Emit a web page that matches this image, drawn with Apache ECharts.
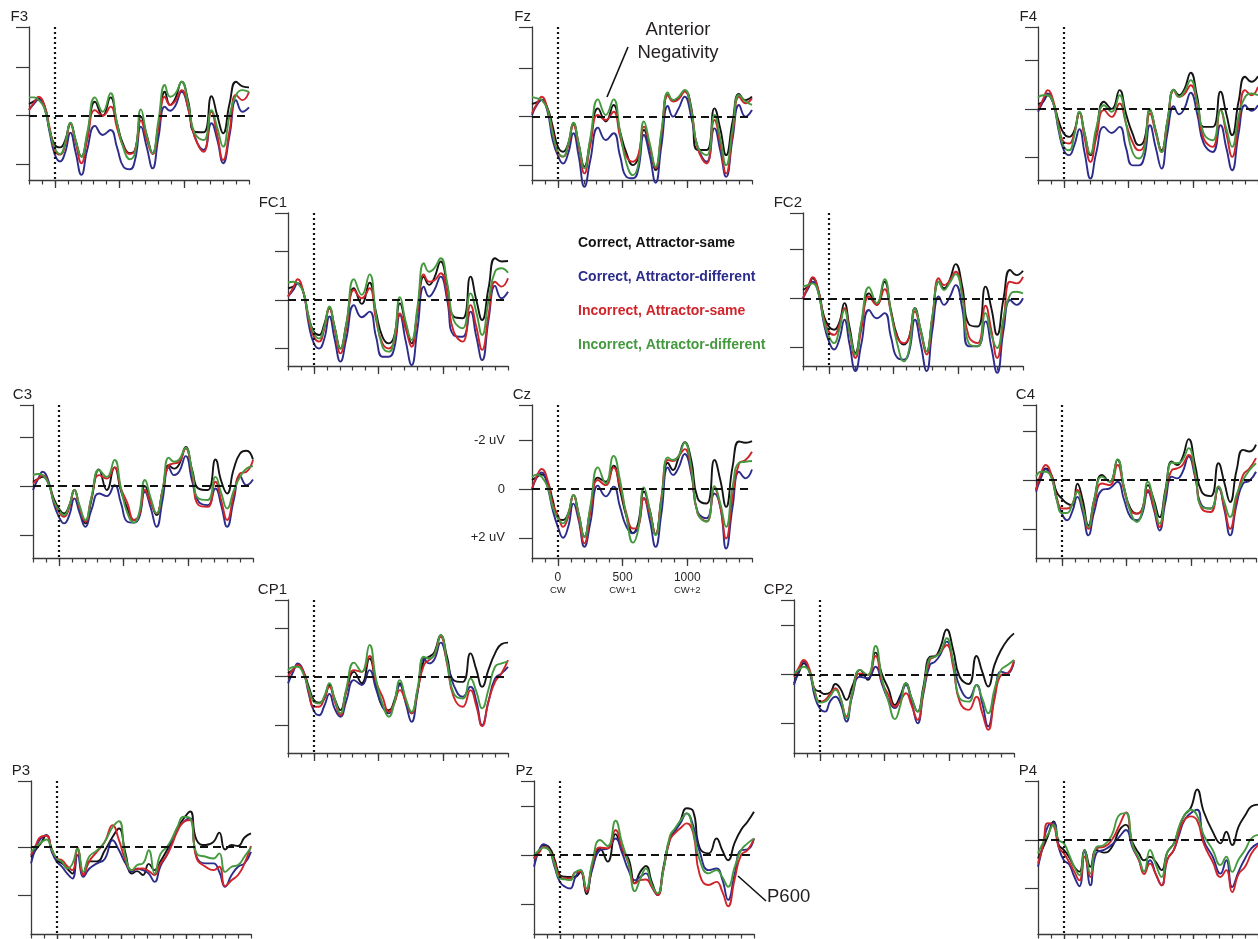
<!DOCTYPE html>
<html>
<head>
<meta charset="utf-8">
<script src="https://cdn.jsdelivr.net/npm/echarts@6.0.0/dist/echarts.min.js"></script>
<style>
html,body{margin:0;padding:0;background:#fff;}
#chart{width:1258px;height:939px;}
</style>
</head>
<body>
<div id="chart"></div>
<script>
// ---------- DATA ----------
const TIMES = [-200, -160, -125, -80, -40, 0, 40, 80, 120, 160, 205, 250, 310, 370, 430, 480, 530, 580, 620, 665, 710, 755, 800, 850, 890, 930, 980, 1030, 1080, 1150, 1210, 1255, 1300, 1350, 1400, 1450, 1500];
const PANELS = ['F3','Fz','F4','FC1','FC2','C3','Cz','C4','CP1','CP2','P3','Pz','P4'];
const CONDITIONS = ['Correct, Attractor-same','Correct, Attractor-different','Incorrect, Attractor-same','Incorrect, Attractor-different'];
const X_TICK_VALUES = [0, 500, 1000];
const X_TICK_LABELS = ['0', '500', '1000'];
const X_TICK_SUBLABELS = ['CW', 'CW+1', 'CW+2'];
const Y_TICK_VALUES = [-2, 0, 2];
const Y_TICK_LABELS = ['-2 uV', '0', '+2 uV'];

const F3_black = [-0.48,-0.6,-0.7,-0.4,0.6,1.2,1.3,1.0,0.3,1.0,1.68,0.8,-0.57,0.0,-0.75,0.3,1.2,1.54,1.4,0.04,0.8,1.54,0.4,-0.98,-0.44,-0.7,-1.39,-0.6,0.66,0.68,-0.8,0.0,0.72,-0.5,-1.39,-1.2,-1.16];
const F3_blue = [-0.23,-0.5,-0.67,-0.3,0.7,1.6,1.88,1.5,0.7,1.5,2.43,1.4,0.42,0.79,0.59,1.3,2.1,2.2,1.8,0.45,1.3,2.16,0.9,-0.37,-0.2,-0.4,-0.98,-0.3,0.86,1.41,0.31,1.0,1.95,0.8,-0.64,-0.16,-0.34];
const F3_red = [-0.23,-0.55,-0.78,-0.4,0.5,1.41,1.6,1.2,0.34,1.1,1.95,1.0,-0.23,0.0,-0.37,0.5,1.27,1.57,1.4,0.2,1.0,1.57,0.5,-0.78,-0.44,-0.6,-1.05,-0.3,0.86,1.48,-0.16,0.8,1.82,0.6,-0.85,-0.64,-0.98];
const F3_green = [-0.75,-0.75,-0.64,-0.3,0.6,1.34,1.57,1.1,0.29,1.0,1.68,0.7,-0.75,-0.16,-0.92,0.3,1.34,1.79,1.5,-0.26,0.8,1.54,0.2,-1.26,-0.78,-0.9,-1.39,-0.5,0.72,1.0,-0.23,0.5,1.27,0.0,-0.85,-1.05,-0.98];

const Fz_black = [-0.52,-0.6,-0.7,-0.35,0.4,1.23,1.44,1.1,0.27,1.1,2.05,1.0,-0.34,0.2,-0.48,0.6,1.5,1.99,1.7,0.55,1.3,2.19,0.8,-0.89,-0.68,-0.75,-1.07,-0.4,1.37,1.37,-0.34,0.5,1.58,0.2,-0.93,-0.68,-0.82];
const Fz_blue = [-0.07,-0.5,-0.68,-0.2,0.96,1.6,1.92,1.5,0.68,1.6,2.88,1.8,0.45,0.96,0.68,1.6,2.47,2.53,2.2,0.75,1.6,2.71,1.2,-0.44,0.0,-0.3,-0.82,0.0,1.23,1.85,0.48,1.4,2.47,0.9,-0.48,0.0,-0.27];
const Fz_red = [-0.14,-0.55,-0.82,-0.3,0.6,1.5,1.64,1.2,0.34,1.2,2.33,1.2,-0.07,0.14,-0.2,0.8,1.64,1.85,1.6,0.41,1.2,2.12,0.7,-0.89,-0.62,-0.7,-1.03,-0.3,1.3,1.92,0.14,1.1,2.33,0.7,-0.82,-0.55,-0.75];
const Fz_green = [-0.8,-0.75,-0.68,-0.3,0.7,1.44,1.64,1.1,0.25,1.1,2.12,0.9,-0.71,-0.07,-0.71,0.6,1.92,2.4,2.0,0.2,1.1,2.05,0.6,-0.99,-0.68,-0.8,-1.1,-0.3,1.23,1.58,-0.07,0.9,1.99,0.5,-0.89,-0.62,-0.48];

const F4_black = [-0.19,-0.3,-0.56,-0.2,0.5,1.01,1.15,0.9,0.16,1.0,1.9,0.9,-0.29,0.0,-0.77,0.2,1.01,1.49,1.3,0.05,0.9,1.7,0.5,-0.79,-0.56,-0.8,-1.48,-0.5,0.74,0.74,-0.7,0.2,1.08,-0.3,-1.32,-1.11,-1.34];
const F4_blue = [0.12,-0.3,-0.63,-0.2,0.9,1.7,1.9,1.5,0.84,1.8,2.86,1.8,0.74,0.99,0.74,1.6,2.32,2.32,2.0,0.67,1.6,2.45,1.0,-0.11,0.22,0.0,-0.66,0.2,1.42,1.77,0.67,1.6,2.52,1.0,-0.15,0.08,-0.15];
const F4_red = [0.05,-0.4,-0.77,-0.3,0.7,1.36,1.42,1.0,0.16,1.2,2.18,1.2,0.05,0.33,-0.22,0.6,1.36,1.7,1.5,0.19,1.0,1.77,0.6,-0.77,-0.49,-0.6,-0.97,-0.2,1.22,1.56,0.05,1.0,1.97,0.6,-0.77,-0.56,-0.9];
const F4_green = [-0.47,-0.56,-0.56,-0.2,0.8,1.56,1.7,1.1,0.12,1.0,1.84,0.8,-0.15,0.12,-0.56,0.6,1.77,2.04,1.7,0.0,0.9,1.77,0.5,-0.79,-0.49,-0.7,-1.18,-0.3,1.01,1.29,0.03,0.8,1.56,0.3,-0.49,-0.63,-0.56];

const FC1_black = [-0.48,-0.55,-0.68,-0.3,0.7,1.3,1.44,1.0,0.34,1.1,1.99,1.0,-0.48,0.16,-0.71,0.5,1.51,1.78,1.5,0.14,1.0,1.78,0.5,-0.96,-0.62,-0.9,-1.58,-0.6,0.68,0.75,-0.96,0.0,0.82,-0.5,-1.71,-1.58,-1.6];
const FC1_blue = [-0.14,-0.4,-0.68,-0.3,1.0,1.78,1.99,1.6,0.68,1.6,2.53,1.6,0.21,0.71,0.48,1.5,2.33,2.33,2.0,0.62,1.7,2.67,1.2,-0.55,-0.14,-0.4,-0.96,0.0,1.44,1.51,0.48,1.5,2.47,0.8,-0.58,-0.07,-0.34];
const FC1_red = [-0.14,-0.5,-0.85,-0.3,0.8,1.51,1.71,1.2,0.34,1.2,2.19,1.2,-0.41,-0.07,-0.48,0.8,1.78,1.99,1.7,0.55,1.2,1.92,0.5,-1.05,-0.75,-0.8,-1.1,-0.2,1.3,1.71,0.21,1.1,2.05,0.6,-0.75,-0.55,-0.89];
const FC1_green = [-0.71,-0.75,-0.68,-0.3,0.7,1.37,1.58,1.1,0.27,1.1,1.99,1.0,-0.85,-0.21,-1.05,0.6,1.92,2.12,1.6,-0.11,0.9,1.64,0.3,-1.51,-1.16,-1.3,-1.71,-0.7,0.82,1.16,-0.27,0.5,1.44,0.0,-1.16,-1.3,-1.12];

const FC2_black = [-0.34,-0.5,-0.82,-0.3,0.7,1.16,1.29,1.0,0.2,1.2,2.24,1.1,-0.2,0.27,-0.68,0.5,1.56,1.9,1.6,0.41,1.3,2.18,0.8,-0.68,-0.41,-0.7,-1.4,-0.5,1.05,1.16,-0.48,0.4,1.5,0.0,-1.16,-0.95,-1.13];
const FC2_blue = [0.0,-0.4,-0.68,-0.2,1.0,1.77,2.1,1.7,0.88,1.9,2.99,1.9,0.48,0.82,0.61,1.6,2.45,2.52,2.2,0.88,1.9,2.99,1.3,-0.07,0.27,0.0,-0.54,0.4,1.97,1.97,0.95,2.0,3.06,1.3,0.07,0.27,0.0];
const FC2_red = [0.0,-0.5,-0.86,-0.3,0.8,1.36,1.5,1.1,0.41,1.4,2.45,1.3,-0.07,0.27,-0.37,0.6,1.63,1.84,1.6,0.54,1.4,2.31,0.8,-0.82,-0.54,-0.7,-1.09,-0.2,1.56,1.84,0.31,1.3,2.45,0.9,-0.68,-0.61,-0.88];
const FC2_green = [-0.48,-0.55,-0.61,-0.2,0.9,1.56,1.84,1.3,0.48,1.4,2.31,1.0,-0.45,0.2,-0.78,0.6,1.9,2.59,2.1,0.41,1.3,2.18,0.7,-0.68,-0.34,-0.6,-0.99,-0.1,1.84,1.97,0.61,1.5,2.04,0.8,-0.14,-0.27,-0.2];

const C3_black = [-0.18,-0.3,-0.38,-0.1,0.5,0.92,1.12,0.8,0.16,0.9,1.53,0.6,-0.68,0.16,-0.77,0.2,0.92,1.39,1.2,0.0,0.6,1.19,0.2,-0.86,-0.72,-0.9,-1.61,-0.66,0.1,0.16,-1.09,-0.2,0.3,-0.68,-1.34,-1.45,-1.09];
const C3_blue = [0.16,-0.3,-0.59,-0.2,0.7,1.26,1.53,1.2,0.51,1.1,1.67,1.0,0.3,0.41,-0.04,0.7,1.46,1.5,1.3,0.23,0.9,1.67,0.6,-0.77,-0.45,-0.6,-1.23,-0.2,0.64,0.78,0.1,0.8,1.67,0.6,-0.41,-0.04,-0.27];
const C3_red = [-0.11,-0.3,-0.45,-0.1,0.6,1.05,1.26,0.9,0.16,0.9,1.46,0.5,-0.45,-0.31,-0.77,0.1,0.71,1.39,1.2,0.16,0.7,1.12,0.2,-0.86,-0.93,-1.0,-1.54,-0.5,0.78,0.85,-0.18,0.6,1.39,0.4,-0.52,-0.59,-1.07];
const C3_green = [-0.45,-0.5,-0.45,-0.1,0.6,0.98,1.19,0.8,0.16,0.8,1.39,0.5,-0.66,-0.38,-1.07,0.1,1.12,1.5,1.1,-0.25,0.5,1.12,0.2,-1.17,-1.0,-1.1,-1.58,-0.6,0.51,0.57,-0.38,0.3,0.92,0.2,-0.38,-0.72,-0.82];

const Cz_black = [-0.37,-0.5,-0.6,-0.3,0.45,1.2,1.27,1.0,0.25,1.0,1.96,0.86,-0.47,-0.3,-0.96,0.04,1.14,1.8,1.41,0.1,0.86,1.85,0.45,-1.08,-0.78,-1.25,-1.92,-1.2,0.38,0.59,-1.19,-0.37,0.73,-0.92,-1.95,-1.9,-1.97];
const Cz_blue = [0.0,-0.5,-0.68,-0.1,0.86,1.55,2.0,1.55,0.6,1.27,2.37,1.41,-0.14,0.3,-0.1,0.73,1.55,1.82,1.55,0.38,1.27,2.37,1.0,-0.89,-0.58,-0.85,-1.44,-0.64,0.93,1.2,0.18,0.73,2.44,0.73,-0.71,-0.44,-0.8];
const Cz_red = [0.0,-0.57,-0.82,-0.37,0.59,1.07,1.55,1.14,0.25,1.14,2.23,1.0,-0.37,-0.16,-0.88,-0.1,1.0,1.62,1.55,0.38,1.0,1.85,0.32,-1.19,-1.15,-1.33,-1.64,-0.78,1.0,1.32,-0.03,0.73,2.03,0.32,-1.05,-1.19,-1.53];
const Cz_green = [-0.5,-0.6,-0.5,-0.1,0.73,1.2,1.41,1.0,0.25,1.0,1.96,0.73,-0.89,-0.23,-1.36,-0.37,1.14,2.2,1.68,-0.07,0.86,1.89,0.45,-1.3,-1.19,-1.33,-1.9,-0.92,1.0,1.34,-0.12,0.59,1.55,-0.1,-1.08,-1.12,-1.15];

const C4_black = [0.41,-0.2,-0.48,-0.2,0.5,0.76,0.96,1.03,0.15,0.8,1.86,0.8,-0.21,0.07,-0.83,0.3,1.17,1.38,1.2,0.21,0.8,1.52,0.4,-0.76,-0.62,-0.9,-1.68,-0.6,0.48,0.66,-0.69,0.1,0.9,-0.4,-1.24,-1.17,-1.45];
const C4_blue = [0.48,-0.1,-0.44,-0.1,0.8,1.38,1.65,1.3,0.69,1.3,2.27,1.3,0.41,0.34,0.07,0.8,1.52,1.65,1.4,0.48,1.2,2.07,0.9,-0.14,-0.07,-0.3,-0.96,-0.1,1.03,1.17,0.34,1.2,2.27,1.0,0.14,0.03,-0.34];
const C4_red = [0.41,-0.3,-0.62,-0.2,0.7,1.17,1.17,1.0,0.41,1.1,2.0,1.0,0.14,0.21,-0.62,0.4,1.24,1.38,1.2,0.41,1.1,1.93,0.6,-0.41,-0.48,-0.6,-1.03,-0.2,1.17,1.31,0.28,1.1,2.0,0.8,-0.21,-0.48,-0.9];
const C4_green = [-0.14,-0.34,-0.34,-0.1,0.8,1.35,1.35,1.0,0.48,1.1,1.93,0.8,-0.14,0.07,-0.85,0.3,1.31,1.72,1.3,0.07,0.9,1.79,0.5,-0.72,-0.69,-0.8,-1.31,-0.3,1.1,1.17,0.25,0.9,1.52,0.6,0.0,-0.41,-0.69];

const CP1_black = [-0.14,-0.3,-0.48,-0.2,0.4,0.96,1.07,0.9,0.34,0.9,1.37,0.6,-0.2,0.27,-0.75,0.3,1.23,1.37,1.0,0.27,1.0,1.5,0.6,-0.68,-0.82,-1.0,-1.71,-0.8,0.14,0.21,-0.96,-0.3,0.41,-0.3,-0.96,-1.34,-1.4];
const CP1_blue = [0.27,-0.2,-0.55,-0.2,0.7,1.4,1.58,1.2,0.71,1.3,1.64,1.0,0.14,0.34,-0.27,0.5,1.23,1.5,1.1,0.34,1.1,1.85,0.7,-0.75,-0.55,-0.7,-1.4,-0.6,0.34,0.82,0.41,1.0,1.99,1.0,0.07,-0.14,-0.41];
const CP1_red = [0.0,-0.3,-0.48,-0.2,0.6,1.23,1.23,0.9,0.41,1.0,1.58,0.6,-0.27,-0.2,-0.85,0.2,0.82,1.44,1.1,0.55,1.0,1.5,0.6,-0.48,-0.68,-0.9,-1.64,-0.5,0.82,1.23,0.55,1.2,2.03,1.0,0.21,-0.14,-0.68];
const CP1_green = [-0.27,-0.4,-0.41,-0.1,0.5,1.03,1.1,0.8,0.27,0.9,1.5,0.5,-0.58,-0.2,-1.3,0.1,1.1,1.64,1.1,0.14,0.9,1.44,0.5,-0.82,-0.75,-0.9,-1.71,-0.6,0.68,0.89,0.07,0.6,1.3,0.5,-0.41,-0.55,-0.62];

const CP2_black = [0.37,-0.1,-0.45,-0.1,0.6,0.71,0.81,0.75,0.4,0.6,1.05,0.5,-0.18,0.23,-0.89,0.0,0.6,1.26,0.9,0.37,1.0,1.53,0.5,-0.72,-0.75,-1.1,-1.84,-1.0,0.1,0.4,-0.75,-0.1,0.5,-0.4,-1.0,-1.41,-1.68];
const CP2_blue = [0.44,-0.2,-0.52,-0.1,0.9,1.4,1.53,1.1,0.92,1.2,1.94,0.9,0.1,0.16,-0.31,0.4,1.05,1.39,1.0,0.44,1.2,2.01,0.8,-0.38,-0.52,-0.8,-1.34,-0.5,0.5,0.98,0.44,1.2,2.14,0.9,-0.11,-0.04,-0.52];
const CP2_red = [0.1,-0.3,-0.59,-0.2,0.7,1.12,1.05,0.8,0.57,1.0,1.73,0.8,-0.04,0.03,-0.75,0.3,0.85,1.33,1.1,0.78,1.3,1.87,0.7,-0.59,-0.72,-0.9,-1.2,-0.3,1.12,1.46,0.92,1.6,2.28,1.0,0.03,-0.04,-0.59];
const CP2_green = [-0.04,-0.2,-0.31,-0.1,0.7,1.16,1.12,0.9,0.64,1.0,1.8,0.8,-0.18,0.03,-1.16,0.2,1.12,1.84,1.3,0.37,1.0,1.53,0.6,-0.66,-0.72,-0.9,-1.48,-0.5,0.98,1.12,0.44,1.0,1.6,0.6,-0.18,-0.38,-0.59];

const P3_black = [0.41,0.1,-0.14,-0.48,0.1,0.55,0.68,0.9,1.1,0.07,1.16,0.6,0.6,0.15,-0.4,-0.75,0.27,1.1,1.0,1.16,0.7,0.96,0.6,0.14,-0.3,-0.75,-1.16,-1.45,-0.27,-0.07,-0.2,-0.58,0.11,-0.07,-0.03,-0.38,-0.55];
const P3_blue = [0.68,0.0,-0.34,-0.48,0.2,0.62,0.82,1.1,1.3,0.34,1.23,0.9,0.68,0.5,-0.27,0.14,0.68,1.03,0.9,0.96,1.1,1.44,0.8,0.34,-0.2,-0.68,-1.03,-1.16,0.41,0.68,0.68,1.03,1.64,1.16,0.82,0.68,0.21];
const P3_red = [0.34,-0.1,-0.41,-0.45,0.1,0.48,0.55,0.8,0.96,0.03,1.16,0.6,0.2,-0.2,-0.89,-0.27,0.55,0.96,0.9,0.89,1.0,1.16,0.7,0.34,-0.1,-0.62,-1.03,-1.1,0.48,0.82,0.96,0.82,1.62,1.37,1.16,0.68,-0.03];
const P3_green = [0.21,0.0,-0.16,-0.3,0.1,0.48,0.62,0.89,0.7,0.07,1.03,0.4,0.15,-0.21,-0.8,-1.05,0.41,0.96,0.75,0.68,0.14,1.1,0.3,0.0,-0.34,-0.8,-1.23,-1.16,0.27,0.41,0.48,0.27,1.03,0.82,0.75,0.4,0.03];

const Pz_black = [0.14,-0.2,-0.41,-0.3,0.2,0.82,0.89,0.9,0.89,0.7,1.6,0.5,-0.27,0.27,-0.86,-0.2,0.14,1.16,0.7,0.45,1.1,1.64,0.5,-0.68,-1.0,-1.4,-1.92,-1.8,-0.3,-0.07,-0.68,-0.2,0.21,-0.5,-1.03,-1.37,-1.78];
const Pz_blue = [0.48,-0.2,-0.45,-0.2,0.5,1.1,1.3,1.37,0.9,0.62,1.5,0.6,-0.2,-0.27,-0.68,-0.1,0.62,1.03,0.9,0.75,1.3,1.64,0.6,-0.64,-1.0,-1.3,-1.71,-1.2,-0.14,0.62,0.55,1.0,1.84,0.8,-0.2,-0.23,-0.68];
const Pz_red = [0.14,-0.1,-0.34,-0.2,0.3,0.89,0.96,0.96,0.7,0.68,1.5,0.4,-0.31,-0.27,-1.03,-0.3,0.34,1.16,1.03,1.0,1.3,1.64,0.6,-0.62,-0.9,-1.1,-1.3,-0.9,0.8,1.23,1.1,1.5,2.1,1.0,0.0,-0.2,-0.68];
const Pz_green = [0.0,-0.2,-0.31,-0.18,0.4,0.96,1.0,1.03,0.7,0.62,1.37,0.3,-0.62,-0.37,-1.41,-0.5,0.34,1.48,1.0,0.55,1.2,1.57,0.6,-0.78,-1.1,-1.4,-1.71,-1.0,0.2,0.75,0.62,0.9,1.3,0.5,-0.2,-0.48,-0.68];

const P4_black = [0.76,0.3,-0.14,-0.76,0.2,0.41,0.7,1.1,1.3,0.41,1.1,0.41,0.52,0.3,-0.41,-0.62,0.1,0.55,0.83,0.69,0.9,1.24,0.5,0.14,-0.48,-1.0,-1.31,-2.07,-1.17,-0.34,0.14,-0.34,0.21,-0.55,-1.0,-1.38,-1.45];
const P4_blue = [1.1,0.2,-0.55,-0.7,0.3,0.83,1.0,1.5,1.9,0.48,1.86,0.55,0.41,0.2,-0.14,-0.41,0.3,0.83,1.3,0.83,1.4,1.86,0.8,0.41,-0.21,-0.8,-1.1,-1.24,0.0,0.69,1.38,0.83,1.93,1.3,0.76,0.34,0.14];
const P4_red = [0.97,0.2,-0.69,-0.6,0.3,0.55,0.9,1.3,1.66,0.69,1.52,0.34,0.28,0.0,-0.62,-1.13,0.2,0.83,1.4,0.97,1.4,1.86,0.8,0.41,-0.34,-0.8,-0.97,-0.8,0.14,0.9,1.52,1.24,2.14,1.4,1.1,0.55,0.21];
const P4_green = [0.55,0.1,-0.21,-0.62,0.0,0.14,0.6,1.1,1.45,0.41,1.38,0.3,0.21,-0.2,-1.03,-1.1,0.2,0.76,1.3,0.41,1.0,1.52,0.5,0.14,-0.55,-1.0,-1.24,-1.0,-0.21,0.41,1.03,0.69,1.31,0.8,0.41,-0.07,-0.21];

// ---------- LAYOUT / STYLE ----------
const COLORS = ['#141414', '#2c2c8c', '#d0242b', '#45993f'];
const FONT = '"Liberation Sans", Arial, Helvetica, sans-serif';
const PANEL_W = 220, PANEL_H = 153, Y_SPAN = 6.28;
const LAYOUT = {
  F3:  {left: 29,   top: 27,  yMin: -3.64, minus2: true},
  Fz:  {left: 532,  top: 27,  yMin: -3.68, minus2: true},
  F4:  {left: 1038, top: 27,  yMin: -3.36, minus2: true},
  FC1: {left: 288,  top: 213, yMin: -3.57, minus2: true},
  FC2: {left: 803,  top: 213, yMin: -3.50, minus2: true},
  C3:  {left: 33,   top: 405, yMin: -3.33, minus2: true},
  Cz:  {left: 532,  top: 405, yMin: -3.45, minus2: true},
  C4:  {left: 1036, top: 405, yMin: -3.08, minus2: true},
  CP1: {left: 288,  top: 600, yMin: -3.15, minus2: true},
  CP2: {left: 794,  top: 600, yMin: -3.05, minus2: true},
  P3:  {left: 31,   top: 781, yMin: -2.70, minus2: false},
  Pz:  {left: 534,  top: 781, yMin: -3.04, minus2: true},
  P4:  {left: 1038, top: 781, yMin: -2.42, minus2: false}
};
const SERIES_BY_PANEL = {
  F3: [F3_black, F3_blue, F3_red, F3_green],
  Fz: [Fz_black, Fz_blue, Fz_red, Fz_green],
  F4: [F4_black, F4_blue, F4_red, F4_green],
  FC1: [FC1_black, FC1_blue, FC1_red, FC1_green],
  FC2: [FC2_black, FC2_blue, FC2_red, FC2_green],
  C3: [C3_black, C3_blue, C3_red, C3_green],
  Cz: [Cz_black, Cz_blue, Cz_red, Cz_green],
  C4: [C4_black, C4_blue, C4_red, C4_green],
  CP1: [CP1_black, CP1_blue, CP1_red, CP1_green],
  CP2: [CP2_black, CP2_blue, CP2_red, CP2_green],
  P3: [P3_black, P3_blue, P3_red, P3_green],
  Pz: [Pz_black, Pz_blue, Pz_red, Pz_green],
  P4: [P4_black, P4_blue, P4_red, P4_green]
};

const X_MIN = -200, X_MAX = 1500;
const MINOR_TICKS = [];
for (let v = X_MIN; v <= X_MAX; v += 100) MINOR_TICKS.push(v);
const AXIS_COLOR = '#3a3a3a';

const grids = [], xAxes = [], yAxes = [], series = [], graphics = [];

PANELS.forEach((p, i) => {
  const L = LAYOUT[p];
  const isCz = p === 'Cz';
  grids.push({left: L.left, top: L.top, width: PANEL_W, height: PANEL_H});
  xAxes.push({
    gridIndex: i, type: 'value', position: 'bottom', min: X_MIN, max: X_MAX,
    axisLine: {show: true, onZero: false, lineStyle: {color: AXIS_COLOR, width: 1.3}},
    axisTick: {show: true, length: 4.5, customValues: MINOR_TICKS, lineStyle: {color: AXIS_COLOR, width: 1.2}},
    axisLabel: {show: false}, splitLine: {show: false}
  });
  xAxes.push({
    gridIndex: i, type: 'value', position: 'bottom', min: X_MIN, max: X_MAX,
    axisLine: {show: false, onZero: false},
    axisTick: {show: true, length: 8, customValues: X_TICK_VALUES, lineStyle: {color: AXIS_COLOR, width: 1.3}},
    axisLabel: isCz ? {
      show: true, margin: 13, customValues: X_TICK_VALUES,
      formatter: v => { const k = X_TICK_VALUES.indexOf(v); return '{a|' + X_TICK_LABELS[k] + '}\n{b|' + X_TICK_SUBLABELS[k] + '}'; },
      rich: {
        a: {fontFamily: FONT, fontSize: 12, lineHeight: 13, color: '#231f20', align: 'center'},
        b: {fontFamily: FONT, fontSize: 9.5, lineHeight: 13, color: '#231f20', align: 'center'}
      }
    } : {show: false},
    splitLine: {show: false}
  });
  const yTicks = L.minus2 ? [L.yMin, -2, 0, 2] : [L.yMin, 0, 2];
  yAxes.push({
    gridIndex: i, type: 'value', position: 'left', inverse: true, min: L.yMin, max: +(L.yMin + Y_SPAN).toFixed(3),
    axisLine: {show: true, onZero: false, lineStyle: {color: AXIS_COLOR, width: 1.3}},
    axisTick: {show: true, length: 13, customValues: yTicks, lineStyle: {color: AXIS_COLOR, width: 1.2}},
    axisLabel: isCz ? {
      show: true, margin: 27, customValues: Y_TICK_VALUES,
      formatter: v => Y_TICK_LABELS[Y_TICK_VALUES.indexOf(v)],
      fontFamily: FONT, fontSize: 13, color: '#231f20'
    } : {show: false},
    splitLine: {show: false}
  });
  SERIES_BY_PANEL[p].forEach((vals, k) => {
    const s = {
      type: 'line', name: CONDITIONS[k], xAxisIndex: 2 * i, yAxisIndex: i,
      data: TIMES.map((t, j) => [t, vals[j]]),
      showSymbol: false, symbol: 'none', smooth: 0.5, clip: false,
      lineStyle: {color: COLORS[k], width: 1.9, join: 'round'}, itemStyle: {color: COLORS[k]},
      silent: true, animation: false
    };
    if (k === 0) {
      s.markLine = {
        silent: true, symbol: ['none', 'none'], label: {show: false}, animation: false,
        data: [
          {xAxis: 0, lineStyle: {type: [2, 3], width: 2.2, color: '#111'}},
          {yAxis: 0, lineStyle: {type: [8, 5], width: 2, color: '#111'}}
        ]
      };
    }
    series.push(s);
  });
  graphics.push({
    type: 'text', x: L.left - 1, y: L.top - 10,
    style: {text: p, font: '15px ' + FONT, fill: '#231f20', align: 'right', verticalAlign: 'middle'}
  });
});

// annotations
graphics.push(
  {type: 'text', x: 678, y: 30, style: {text: 'Anterior', font: '18.5px ' + FONT, fill: '#231f20', align: 'center', verticalAlign: 'middle'}},
  {type: 'text', x: 678, y: 53, style: {text: 'Negativity', font: '18.5px ' + FONT, fill: '#231f20', align: 'center', verticalAlign: 'middle'}},
  {type: 'line', shape: {x1: 628, y1: 47, x2: 607, y2: 97}, style: {stroke: '#111', lineWidth: 1.6}},
  {type: 'text', x: 767, y: 897, style: {text: 'P600', font: '18.5px ' + FONT, fill: '#231f20', align: 'left', verticalAlign: 'middle'}},
  {type: 'line', shape: {x1: 738, y1: 876, x2: 766, y2: 901}, style: {stroke: '#111', lineWidth: 1.6}}
);

const option = {
  animation: false,
  backgroundColor: '#ffffff',
  legend: {
    orient: 'vertical', left: 568, top: 231, itemGap: 20, itemWidth: 0, itemHeight: 14,
    icon: 'none', selectedMode: false,
    data: CONDITIONS.map((c, k) => ({name: c, textStyle: {color: COLORS[k]}})),
    textStyle: {fontFamily: FONT, fontSize: 14, fontWeight: 'bold', lineHeight: 14}
  },
  grid: grids, xAxis: xAxes, yAxis: yAxes, series: series, graphic: graphics
};

const chart = echarts.init(document.getElementById('chart'), null, {renderer: 'canvas'});
chart.setOption(option);
</script>
</body>
</html>
